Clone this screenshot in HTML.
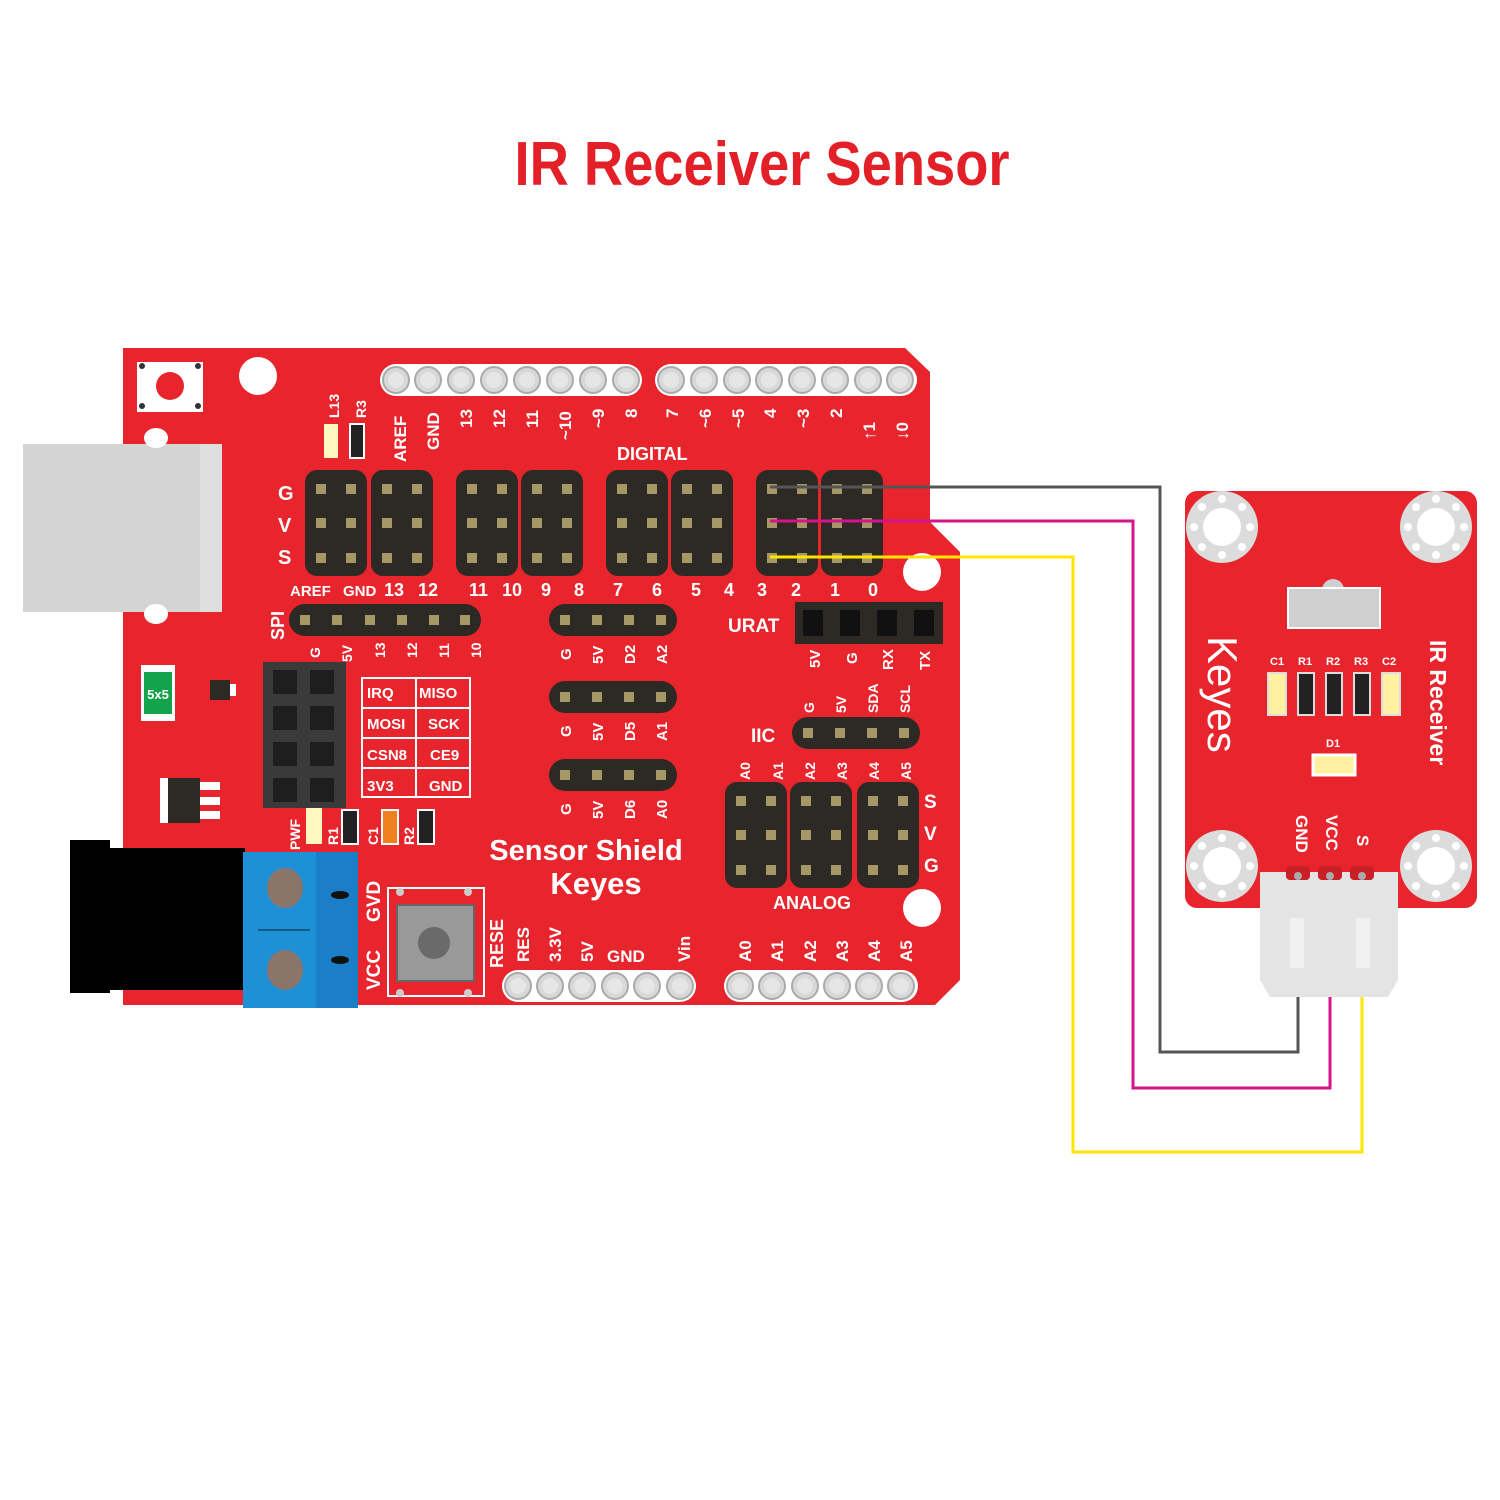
<!DOCTYPE html>
<html><head><meta charset="utf-8"><style>
html,body{margin:0;padding:0;background:#fff;}
svg{display:block}
text{font-family:"Liberation Sans",sans-serif;font-weight:bold;fill:#fff}
</style></head><body>
<svg width="1500" height="1500" viewBox="0 0 1500 1500" xmlns="http://www.w3.org/2000/svg">
<defs>
<g id="hp"><circle r="13" fill="#d8d8d8" stroke="#aaa" stroke-width="2"/><circle r="8" fill="#e6e6e6"/></g>
<g id="p"><rect x="-5" y="-5" width="10" height="10" fill="#a59766"/></g>
<g id="blk"><rect x="0" y="0" width="62" height="106" rx="12" fill="#2d2a26"/><use href="#p" x="16" y="19"/><use href="#p" x="46" y="19"/><use href="#p" x="16" y="53"/><use href="#p" x="46" y="53"/><use href="#p" x="16" y="88"/><use href="#p" x="46" y="88"/></g>
<g id="hole"><circle r="36" fill="#dcdcdc"/><circle r="19" fill="#fff"/>
<circle cx="0" cy="-28" r="4" fill="#fff"/><circle cx="0" cy="28" r="4" fill="#fff"/><circle cx="-28" cy="0" r="4" fill="#fff"/><circle cx="28" cy="0" r="4" fill="#fff"/>
<circle cx="-20" cy="-20" r="4" fill="#fff"/><circle cx="20" cy="20" r="4" fill="#fff"/><circle cx="-20" cy="20" r="4" fill="#fff"/><circle cx="20" cy="-20" r="4" fill="#fff"/></g>
</defs>
<text x="762" y="185" text-anchor="middle" font-size="62" style="fill:#e32027" textLength="495" lengthAdjust="spacingAndGlyphs">IR Receiver Sensor</text>

<path d="M123 348 L905 348 L930 372 L930 522 L960 552 L960 980 L935 1005 L123 1005 Z" fill="#e8242c"/>
<rect x="23" y="444" width="199" height="168" fill="#d4d4d4"/>
<rect x="200" y="444" width="22" height="168" fill="#dedede"/>
<circle cx="258" cy="376" r="19" fill="#fff"/>
<circle cx="922" cy="572" r="19" fill="#fff"/>
<circle cx="922" cy="908" r="19" fill="#fff"/>
<ellipse cx="156" cy="438" rx="12" ry="10" fill="#fff"/>
<ellipse cx="156" cy="614" rx="12" ry="10" fill="#fff"/>
<rect x="137" y="362" width="66" height="50" fill="#fff"/>
<circle cx="170" cy="386" r="14" fill="#e8242c"/>
<circle cx="142" cy="366" r="3" fill="#333"/><circle cx="198" cy="366" r="3" fill="#333"/><circle cx="142" cy="406" r="3" fill="#333"/><circle cx="198" cy="406" r="3" fill="#333"/>
<rect x="141" y="665" width="34" height="56" fill="#fff"/><rect x="144" y="672" width="28" height="42" fill="#13a34a"/>
<text x="158" y="699" font-size="13" text-anchor="middle">5x5</text>
<rect x="210" y="680" width="20" height="20" fill="#2d2a26"/><rect x="230" y="684" width="6" height="12" fill="#fff"/>
<rect x="160" y="778" width="40" height="45" fill="#2d2a26"/><rect x="160" y="778" width="8" height="45" fill="#fff"/><rect x="200" y="782" width="20" height="8" fill="#fff"/><rect x="200" y="797" width="20" height="8" fill="#fff"/><rect x="200" y="811" width="20" height="8" fill="#fff"/>
<rect x="70" y="840" width="40" height="153" fill="#000"/>
<rect x="70" y="848" width="175" height="142" fill="#000"/>
<rect x="243" y="852" width="115" height="156" fill="#1e90d6"/>
<rect x="316" y="852" width="42" height="156" fill="#1a7fc6"/>
<line x1="258" y1="930" x2="310" y2="930" stroke="#135a8a" stroke-width="2"/>
<ellipse cx="285" cy="888" rx="18" ry="20" fill="#8b7569"/>
<ellipse cx="285" cy="970" rx="18" ry="20" fill="#8b7569"/>
<ellipse cx="340" cy="895" rx="9" ry="4" fill="#111"/>
<ellipse cx="340" cy="960" rx="9" ry="4" fill="#111"/>
<text transform="translate(380,922) rotate(-90)" font-size="19">GVD</text>
<text transform="translate(380,990) rotate(-90)" font-size="19">VCC</text>
<rect x="388" y="888" width="96" height="108" fill="none" stroke="#fff" stroke-width="2"/>
<rect x="397" y="905" width="77" height="76" fill="#999" stroke="#666" stroke-width="2"/>
<circle cx="434" cy="943" r="16" fill="#6a6a6a"/>
<circle cx="400" cy="892" r="4" fill="#ccc"/><circle cx="468" cy="892" r="4" fill="#ccc"/><circle cx="400" cy="993" r="4" fill="#ccc"/><circle cx="468" cy="993" r="4" fill="#ccc"/>
<text transform="translate(503,968) rotate(-90)" font-size="18">RESE</text>

<rect x="380" y="364" width="262" height="32" rx="16" fill="#fff"/>
<rect x="655" y="364" width="262" height="32" rx="16" fill="#fff"/>
<g>
<use href="#hp" x="396" y="380"/><use href="#hp" x="428" y="380"/><use href="#hp" x="461" y="380"/><use href="#hp" x="494" y="380"/><use href="#hp" x="527" y="380"/><use href="#hp" x="560" y="380"/><use href="#hp" x="593" y="380"/><use href="#hp" x="626" y="380"/>
<use href="#hp" x="671" y="380"/><use href="#hp" x="704" y="380"/><use href="#hp" x="737" y="380"/><use href="#hp" x="769" y="380"/><use href="#hp" x="802" y="380"/><use href="#hp" x="835" y="380"/><use href="#hp" x="868" y="380"/><use href="#hp" x="900" y="380"/>
</g>
<g font-size="17">
<text transform="translate(406,462) rotate(-90)">AREF</text>
<text transform="translate(439,450) rotate(-90)">GND</text>
<text transform="translate(472,428) rotate(-90)">13</text>
<text transform="translate(505,428) rotate(-90)">12</text>
<text transform="translate(538,428) rotate(-90)">11</text>
<text transform="translate(571,440) rotate(-90)">~10</text>
<text transform="translate(604,428) rotate(-90)">~9</text>
<text transform="translate(637,418) rotate(-90)">8</text>
<text transform="translate(678,418) rotate(-90)">7</text>
<text transform="translate(711,428) rotate(-90)">~6</text>
<text transform="translate(744,428) rotate(-90)">~5</text>
<text transform="translate(776,418) rotate(-90)">4</text>
<text transform="translate(809,428) rotate(-90)">~3</text>
<text transform="translate(842,418) rotate(-90)">2</text>
<text transform="translate(875,440) rotate(-90)">↑1</text>
<text transform="translate(908,440) rotate(-90)">↓0</text>
</g>
<text x="617" y="460" font-size="18">DIGITAL</text>
<rect x="324" y="424" width="14" height="34" fill="#fff7c0"/>
<rect x="350" y="424" width="14" height="34" fill="#222" stroke="#fff" stroke-width="2"/>
<text transform="translate(339,418) rotate(-90)" font-size="14">L13</text>
<text transform="translate(366,418) rotate(-90)" font-size="14">R3</text>

<text x="278" y="500" font-size="20">G</text><text x="278" y="532" font-size="20">V</text><text x="278" y="564" font-size="20">S</text>
<use href="#blk" x="305" y="470"/><use href="#blk" x="371" y="470"/>
<use href="#blk" x="456" y="470"/><use href="#blk" x="521" y="470"/>
<use href="#blk" x="606" y="470"/><use href="#blk" x="671" y="470"/>
<use href="#blk" x="756" y="470"/><use href="#blk" x="821" y="470"/>
<g font-size="18">
<text x="290" y="596" font-size="15">AREF</text><text x="343" y="596" font-size="15">GND</text>
<text x="384" y="596">13</text><text x="418" y="596">12</text>
<text x="469" y="596">11</text><text x="502" y="596">10</text><text x="541" y="596">9</text><text x="574" y="596">8</text>
<text x="613" y="596">7</text><text x="652" y="596">6</text><text x="691" y="596">5</text><text x="724" y="596">4</text>
<text x="757" y="596">3</text><text x="791" y="596">2</text><text x="830" y="596">1</text><text x="868" y="596">0</text>
</g>
<text transform="translate(284,640) rotate(-90)" font-size="18">SPI</text>
<rect x="289" y="604" width="192" height="32" rx="16" fill="#2d2a26"/>
<use href="#p" x="305" y="620"/><use href="#p" x="337" y="620"/><use href="#p" x="370" y="620"/><use href="#p" x="402" y="620"/><use href="#p" x="434" y="620"/><use href="#p" x="465" y="620"/>
<g font-size="14">
<text transform="translate(320,658) rotate(-90)">G</text><text transform="translate(352,662) rotate(-90)">5V</text><text transform="translate(385,658) rotate(-90)">13</text><text transform="translate(417,658) rotate(-90)">12</text><text transform="translate(449,658) rotate(-90)">11</text><text transform="translate(481,658) rotate(-90)">10</text>
</g>
<g>
<rect x="549" y="604" width="128" height="32" rx="16" fill="#2d2a26"/>
<use href="#p" x="565" y="620"/><use href="#p" x="597" y="620"/><use href="#p" x="629" y="620"/><use href="#p" x="661" y="620"/>
<rect x="549" y="681" width="128" height="32" rx="16" fill="#2d2a26"/>
<use href="#p" x="565" y="697"/><use href="#p" x="597" y="697"/><use href="#p" x="629" y="697"/><use href="#p" x="661" y="697"/>
<rect x="549" y="759" width="128" height="32" rx="16" fill="#2d2a26"/>
<use href="#p" x="565" y="775"/><use href="#p" x="597" y="775"/><use href="#p" x="629" y="775"/><use href="#p" x="661" y="775"/>
</g>
<g font-size="15">
<text transform="translate(571,660) rotate(-90)">G</text><text transform="translate(603,664) rotate(-90)">5V</text><text transform="translate(635,664) rotate(-90)">D2</text><text transform="translate(667,664) rotate(-90)">A2</text>
<text transform="translate(571,737) rotate(-90)">G</text><text transform="translate(603,741) rotate(-90)">5V</text><text transform="translate(635,741) rotate(-90)">D5</text><text transform="translate(667,741) rotate(-90)">A1</text>
<text transform="translate(571,815) rotate(-90)">G</text><text transform="translate(603,819) rotate(-90)">5V</text><text transform="translate(635,819) rotate(-90)">D6</text><text transform="translate(667,819) rotate(-90)">A0</text>
</g>
<rect x="263" y="662" width="83" height="146" fill="#3a3a3a"/>
<g fill="#1e1e1e">
<rect x="273" y="670" width="24" height="24"/><rect x="310" y="670" width="24" height="24"/>
<rect x="273" y="706" width="24" height="24"/><rect x="310" y="706" width="24" height="24"/>
<rect x="273" y="742" width="24" height="24"/><rect x="310" y="742" width="24" height="24"/>
<rect x="273" y="778" width="24" height="24"/><rect x="310" y="778" width="24" height="24"/>
</g>
<g stroke="#fff" stroke-width="2" fill="none">
<rect x="362" y="678" width="108" height="119"/>
<line x1="416" y1="678" x2="416" y2="797"/>
<line x1="362" y1="708" x2="470" y2="708"/><line x1="362" y1="738" x2="470" y2="738"/><line x1="362" y1="768" x2="470" y2="768"/>
</g>
<g font-size="15">
<text x="367" y="698">IRQ</text><text x="419" y="698">MISO</text>
<text x="367" y="729">MOSI</text><text x="428" y="729">SCK</text>
<text x="367" y="760">CSN8</text><text x="430" y="760">CE9</text>
<text x="367" y="791">3V3</text><text x="429" y="791">GND</text>
</g>
<rect x="306" y="808" width="16" height="36" fill="#fff7c0"/>
<rect x="342" y="810" width="16" height="34" fill="#222" stroke="#fff" stroke-width="2"/>
<rect x="382" y="810" width="16" height="34" fill="#f07f1e" stroke="#fff" stroke-width="2"/>
<rect x="418" y="810" width="16" height="34" fill="#222" stroke="#fff" stroke-width="2"/>
<g font-size="14">
<text transform="translate(300,850) rotate(-90)">PWF</text><text transform="translate(338,845) rotate(-90)">R1</text><text transform="translate(378,845) rotate(-90)">C1</text><text transform="translate(414,845) rotate(-90)">R2</text>
</g>
<text x="586" y="860" font-size="29" text-anchor="middle">Sensor Shield</text>
<text x="596" y="894" font-size="31" text-anchor="middle">Keyes</text>
<text x="728" y="632" font-size="19">URAT</text>
<rect x="795" y="602" width="148" height="42" fill="#2d2a26"/>
<rect x="803" y="610" width="20" height="26" fill="#111"/><rect x="840" y="610" width="20" height="26" fill="#111"/><rect x="877" y="610" width="20" height="26" fill="#111"/><rect x="914" y="610" width="20" height="26" fill="#111"/>
<g font-size="15">
<text transform="translate(820,668) rotate(-90)">5V</text><text transform="translate(857,664) rotate(-90)">G</text><text transform="translate(893,670) rotate(-90)">RX</text><text transform="translate(930,670) rotate(-90)">TX</text>
</g>
<text x="751" y="742" font-size="19">IIC</text>
<rect x="792" y="717" width="128" height="32" rx="16" fill="#2d2a26"/>
<use href="#p" x="808" y="733"/><use href="#p" x="840" y="733"/><use href="#p" x="872" y="733"/><use href="#p" x="904" y="733"/>
<g font-size="14">
<text transform="translate(814,713) rotate(-90)">G</text><text transform="translate(846,713) rotate(-90)">5V</text><text transform="translate(878,713) rotate(-90)">SDA</text><text transform="translate(910,713) rotate(-90)">SCL</text>
<text transform="translate(750,780) rotate(-90)">A0</text><text transform="translate(783,780) rotate(-90)">A1</text><text transform="translate(815,780) rotate(-90)">A2</text><text transform="translate(847,780) rotate(-90)">A3</text><text transform="translate(879,780) rotate(-90)">A4</text><text transform="translate(911,780) rotate(-90)">A5</text>
</g>
<use href="#blk" x="725" y="782"/><use href="#blk" x="790" y="782"/><use href="#blk" x="857" y="782"/>
<text x="924" y="808" font-size="19">S</text><text x="924" y="840" font-size="19">V</text><text x="924" y="872" font-size="19">G</text>
<text x="773" y="909" font-size="18">ANALOG</text>
<rect x="502" y="970" width="194" height="32" rx="16" fill="#fff"/>
<rect x="724" y="970" width="194" height="32" rx="16" fill="#fff"/>
<use href="#hp" x="518" y="986"/><use href="#hp" x="550" y="986"/><use href="#hp" x="582" y="986"/><use href="#hp" x="615" y="986"/><use href="#hp" x="647" y="986"/><use href="#hp" x="680" y="986"/>
<use href="#hp" x="740" y="986"/><use href="#hp" x="772" y="986"/><use href="#hp" x="805" y="986"/><use href="#hp" x="837" y="986"/><use href="#hp" x="869" y="986"/><use href="#hp" x="901" y="986"/>
<g font-size="17">
<text transform="translate(529,962) rotate(-90)">RES</text><text transform="translate(561,962) rotate(-90)">3.3V</text><text transform="translate(593,962) rotate(-90)">5V</text><text x="607" y="962">GND</text><text transform="translate(690,962) rotate(-90)">Vin</text>
<text transform="translate(751,962) rotate(-90)">A0</text><text transform="translate(783,962) rotate(-90)">A1</text><text transform="translate(816,962) rotate(-90)">A2</text><text transform="translate(848,962) rotate(-90)">A3</text><text transform="translate(880,962) rotate(-90)">A4</text><text transform="translate(912,962) rotate(-90)">A5</text>
</g>

<rect x="1185" y="491" width="292" height="417" rx="12" fill="#e8242c"/>
<use href="#hole" x="1222" y="527"/><use href="#hole" x="1436" y="527"/><use href="#hole" x="1222" y="866"/><use href="#hole" x="1436" y="866"/>
<circle cx="1333" cy="590" r="11" fill="#cfcfcf"/>
<rect x="1288" y="588" width="92" height="40" fill="#cfcfcf" stroke="#fff" stroke-width="2"/>
<text transform="translate(1208,636) rotate(90)" font-size="42" style="font-weight:normal">Keyes</text>
<text transform="translate(1430,640) rotate(90)" font-size="23">IR Receiver</text>
<g font-size="11"><text x="1270" y="665">C1</text><text x="1298" y="665">R1</text><text x="1326" y="665">R2</text><text x="1354" y="665">R3</text><text x="1382" y="665">C2</text><text x="1326" y="747">D1</text></g>
<rect x="1268" y="673" width="18" height="42" fill="#fff1a0" stroke="#ddd" stroke-width="2"/>
<rect x="1298" y="673" width="16" height="42" fill="#222" stroke="#ddd" stroke-width="2"/>
<rect x="1326" y="673" width="16" height="42" fill="#222" stroke="#ddd" stroke-width="2"/>
<rect x="1354" y="673" width="16" height="42" fill="#222" stroke="#ddd" stroke-width="2"/>
<rect x="1382" y="673" width="18" height="42" fill="#fff1a0" stroke="#ddd" stroke-width="2"/>
<rect x="1313" y="755" width="42" height="20" fill="#fff1a0" stroke="#fff" stroke-width="3"/>
<g font-size="17"><text transform="translate(1296,815) rotate(90)">GND</text><text transform="translate(1326,815) rotate(90)">VCC</text><text transform="translate(1357,835) rotate(90)">S</text></g>
<path d="M1260 872 L1398 872 L1398 980 L1388 997 L1270 997 L1260 980 Z" fill="#e4e4e4"/>
<rect x="1290" y="918" width="14" height="50" fill="#f0f0f0"/><rect x="1356" y="918" width="14" height="50" fill="#f0f0f0"/>
<rect x="1286" y="866" width="24" height="14" rx="4" fill="#c91f26"/><rect x="1318" y="866" width="24" height="14" rx="4" fill="#c91f26"/><rect x="1350" y="866" width="24" height="14" rx="4" fill="#c91f26"/>
<circle cx="1298" cy="876" r="4" fill="#aaa"/><circle cx="1330" cy="876" r="4" fill="#aaa"/><circle cx="1362" cy="876" r="4" fill="#aaa"/>

<g fill="none" stroke-width="3">
<polyline points="770,487 1160,487 1160,1052 1298,1052 1298,997" stroke="#555"/>
<polyline points="770,521 1133,521 1133,1088 1330,1088 1330,997" stroke="#d4138c"/>
<polyline points="770,557 1073,557 1073,1152 1362,1152 1362,997" stroke="#ffe600"/>
</g>
</svg>
</body></html>
